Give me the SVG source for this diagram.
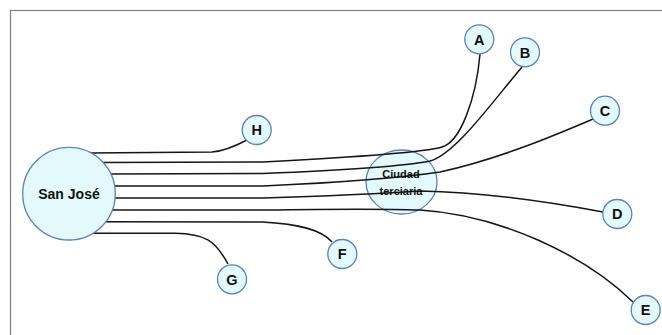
<svg xmlns="http://www.w3.org/2000/svg" width="662" height="335" viewBox="0 0 662 335">
<style>
.node{fill:#e3f9fc;stroke:#5b80c0;stroke-width:1.3}
.lbl{font-family:"Liberation Sans",Arial,sans-serif;font-weight:bold;fill:#111;text-anchor:middle}
.small{font-size:14.5px}
.conn path{fill:none;stroke:#151515;stroke-width:1.5}
</style>
<rect x="10.5" y="10.5" width="670" height="340" fill="#fff" stroke="#808080" stroke-width="1.2"/>
<g id="ciudad">
<ellipse class="node" cx="401.5" cy="182" rx="35.5" ry="32"/>
</g>
<g id="connectors" class="conn">
<path d="M88,153 L212,152 Q226,151 247,140"/>
<path d="M100,162.5 L263,162 C360,157 425,152 442,147 C460,142 476,100 480,54"/>
<path d="M106,174 L263,173.5 C350,170 410,165 430,161 C455,154 490,105 522,67"/>
<path d="M110,186 L263,186 C330,183 400,178 440,172 C500,159 560,133 593,119"/>
<path d="M110,198 L263,198 C330,196 390,193 420,191 C480,192 550,202 603,212"/>
<path d="M108,210 L263,210 C330,209 380,208.5 420,210 C500,215 585,255 633,302"/>
<path d="M102,221.7 L262,222 C300,224 322,230 332,242"/>
<path d="M90,233.3 L175,233.3 C205,234 215,240 228,264"/>
</g>
<text class="lbl" x="401" y="178" font-size="11">Ciudad</text>
<text class="lbl" x="401" y="195" font-size="11">terciaria</text>
<g id="sanjose">
<circle class="node" cx="69" cy="193.7" r="46.3"/>
<text class="lbl" x="69" y="199" font-size="14">San José</text>
</g>
<g id="A"><circle class="node" cx="479.3" cy="39.3" r="14.5"/><text class="lbl small" x="479.3" y="44.5">A</text></g>
<g id="B"><circle class="node" cx="525" cy="52.3" r="14.5"/><text class="lbl small" x="525" y="57.5">B</text></g>
<g id="C"><circle class="node" cx="605" cy="110.7" r="14.5"/><text class="lbl small" x="605" y="115.9">C</text></g>
<g id="D"><circle class="node" cx="617.3" cy="214" r="14.5"/><text class="lbl small" x="617.3" y="219.2">D</text></g>
<g id="E"><circle class="node" cx="645.7" cy="310" r="14.5"/><text class="lbl small" x="645.7" y="315.2">E</text></g>
<g id="F"><circle class="node" cx="342.3" cy="254" r="14.5"/><text class="lbl small" x="342.3" y="259.2">F</text></g>
<g id="G"><circle class="node" cx="232" cy="279.3" r="14.5"/><text class="lbl small" x="232" y="284.5">G</text></g>
<g id="H"><circle class="node" cx="256.7" cy="130" r="14.5"/><text class="lbl small" x="256.7" y="135.2">H</text></g>
</svg>
